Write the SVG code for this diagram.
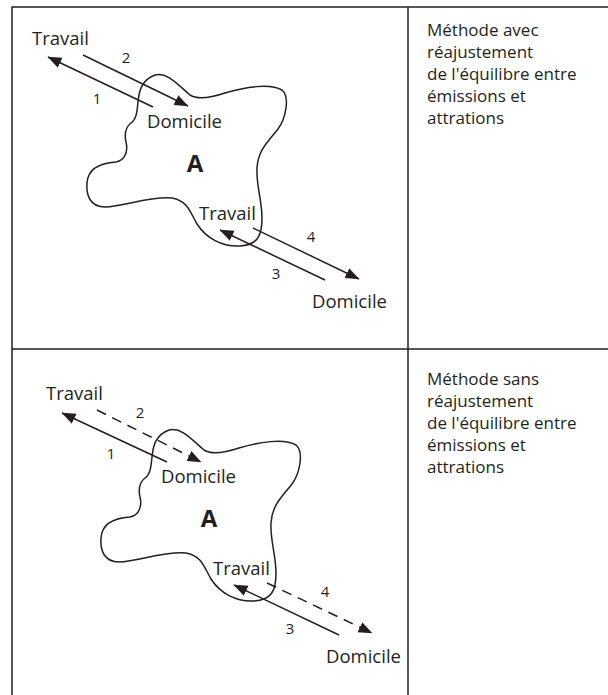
<svg xmlns="http://www.w3.org/2000/svg" width="608" height="695" viewBox="0 0 608 695">
  <style>
    .frame { fill: none; stroke: #231f20; stroke-width: 1.5; }
    .blob { fill: none; stroke: #231f20; stroke-width: 1.5; stroke-linejoin: round; }
    .arrow { fill: none; stroke: #231f20; stroke-width: 1.5; marker-end: url(#head); }
    .dashed { stroke-dasharray: 10 7; }
    .lbl { font-family: "Open Sans", "Noto Sans", "Liberation Sans", sans-serif; font-size: 18.5px; fill: #231f20; }
    .num { font-family: "Open Sans", "Noto Sans", "Liberation Sans", sans-serif; font-size: 15px; fill: #231f20; text-anchor: middle; }
    .big { font-family: "Open Sans", "Noto Sans", "Liberation Sans", sans-serif; font-size: 24px; font-weight: bold; fill: #231f20; text-anchor: middle; }
    .note { font-family: "Open Sans", "Noto Sans", "Liberation Sans", sans-serif; font-size: 17px; fill: #231f20; }
  </style>
  <defs>
    <marker id="head" markerUnits="userSpaceOnUse" markerWidth="16" markerHeight="13" refX="13.5" refY="5.5" orient="auto">
      <path d="M0,0 L14,5.5 L0,11 Z" fill="#231f20"/>
    </marker>
    <path id="zone" d="M138,102 C139,92 141,80 155,75 C168,72 178,85 190,95 C198,100 210,98 225,93 C245,87 270,83 282,90 C290,97 286,118 278,129 C268,142 258,150 257,168 C256,185 262,200 262,218 C262,235 258,245 240,246 C222,247 206,238 197,224 C190,212 188,201 172,198 C150,196 125,206 105,207 C90,207 86,195 87,183 C88,168 100,163 116,162 C126,160 128,150 126,142 C124,133 126,127 131,123 C137,119 137,110 138,102 Z"/>
  </defs>

  <g id="frame">
    <path class="frame" d="M12,700 L12,7 L610,7 M408,7 L408,700 M12,349 L610,349"/>
  </g>

  <!-- Top panel -->
  <g id="panel-top">
    <g id="zone-A-top"><use href="#zone" class="blob"/></g>
    <g id="label-A-top"><text class="big" x="195" y="172">A</text></g>
    <g id="travail-ext-top"><text class="lbl" x="32" y="45">Travail</text></g>
    <g id="domicile-int-top"><text class="lbl" x="147" y="128">Domicile</text></g>
    <g id="travail-int-top"><text class="lbl" x="199" y="220">Travail</text></g>
    <g id="domicile-ext-top"><text class="lbl" x="312" y="308">Domicile</text></g>
    <g id="connectors-top">
      <line class="arrow" x1="153" y1="107" x2="48" y2="57"/>
      <line class="arrow" x1="83" y1="55" x2="188" y2="106"/>
      <line class="arrow" x1="325" y1="280" x2="220" y2="230"/>
      <line class="arrow" x1="253" y1="228" x2="359" y2="279"/>
      <text class="num" x="97" y="104">1</text>
      <text class="num" x="126" y="63">2</text>
      <text class="num" x="276" y="279">3</text>
      <text class="num" x="311" y="242">4</text>
    </g>
    <g id="note-top">
      <text class="note" x="427" y="36">Méthode avec</text>
      <text class="note" x="427" y="58">réajustement</text>
      <text class="note" x="427" y="80">de l'équilibre entre</text>
      <text class="note" x="427" y="102">émissions et</text>
      <text class="note" x="427" y="124">attrations</text>
    </g>
  </g>

  <!-- Bottom panel -->
  <g id="panel-bottom">
    <g id="zone-A-bottom"><use href="#zone" class="blob" transform="translate(14,355)"/></g>
    <g id="label-A-bottom"><text class="big" x="209" y="527">A</text></g>
    <g id="travail-ext-bottom"><text class="lbl" x="46" y="400">Travail</text></g>
    <g id="domicile-int-bottom"><text class="lbl" x="161" y="483">Domicile</text></g>
    <g id="travail-int-bottom"><text class="lbl" x="213" y="575">Travail</text></g>
    <g id="domicile-ext-bottom"><text class="lbl" x="326" y="663">Domicile</text></g>
    <g id="connectors-bottom">
      <line class="arrow" x1="167" y1="462" x2="62" y2="413"/>
      <line class="arrow dashed" x1="97" y1="410" x2="201" y2="462"/>
      <line class="arrow" x1="339" y1="635" x2="234" y2="585"/>
      <line class="arrow dashed" x1="267" y1="583" x2="372" y2="633"/>
      <text class="num" x="111" y="459">1</text>
      <text class="num" x="140" y="418">2</text>
      <text class="num" x="290" y="634">3</text>
      <text class="num" x="325" y="597">4</text>
    </g>
    <g id="note-bottom">
      <text class="note" x="427" y="385">Méthode sans</text>
      <text class="note" x="427" y="407">réajustement</text>
      <text class="note" x="427" y="429">de l'équilibre entre</text>
      <text class="note" x="427" y="451">émissions et</text>
      <text class="note" x="427" y="473">attrations</text>
    </g>
  </g>
</svg>
